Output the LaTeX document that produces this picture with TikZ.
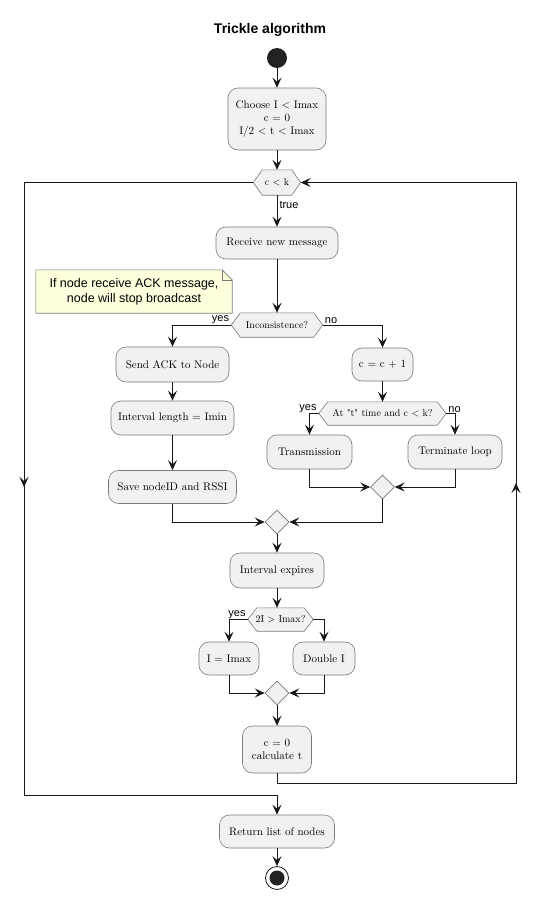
\documentclass[tikz,border=0pt]{standalone}
\usepackage{fontspec}
\defaultfontfeatures[\rmfamily]{}
\setmainfont{lmroman10-regular.otf}[BoldFont=lmroman10-bold.otf,ItalicFont=lmroman10-italic.otf]
\newfontfamily\lsans{Liberation Sans}
\usetikzlibrary{arrows.meta,shapes.geometric,backgrounds}
\definecolor{boxfill}{HTML}{F1F1F1}
\definecolor{boxedge}{HTML}{7A7A7A}
\definecolor{notefill}{HTML}{FEFFDD}
\definecolor{ink}{HTML}{181818}
\definecolor{dotc}{HTML}{222222}
\newcommand\hexbg[1]{%
  \begin{scope}[on background layer]
  \draw[boxedge,line width=0.6,fill=boxfill]
    ([xshift=9]#1.north west) -- ([xshift=-9]#1.north east) -- (#1.east)
    -- ([xshift=-9]#1.south east) -- ([xshift=9]#1.south west) -- (#1.west) -- cycle;
  \end{scope}}
\begin{document}
\begin{tikzpicture}[x=1pt,y=-1pt,
  act/.style 2 args={rectangle, rounded corners=10, draw=boxedge, line width=0.6,
    fill=boxfill, inner sep=0, align=center, minimum width=#1, minimum height=#2,
    font=\fontsize{11}{13}\selectfont},
  hex/.style 2 args={rectangle, draw=none, inner sep=0, align=center,
    minimum width=#1, minimum height=#2, font=\fontsize{10}{12}\selectfont},
  merge/.style={diamond, draw=boxedge, line width=0.6, fill=boxfill, inner sep=0,
    minimum width=24, minimum height=24},
  startdot/.style={circle, fill=dotc, inner sep=0, minimum size=20},
  enddot/.style={circle, draw=ink, line width=0.8, fill=white, inner sep=0, minimum size=23},
  flow/.style={draw=ink, line width=1, -{Stealth[length=10pt,width=9pt,inset=4pt]}},
  lbl/.style={font=\lsans\fontsize{11}{13}\selectfont, inner sep=1},
  notebox/.style={rectangle, draw=none, inner sep=0, align=center,
    minimum width=196, minimum height=43, font=\lsans\fontsize{12.5}{15}\selectfont}
]
\useasboundingbox (0,0) rectangle (541,900);
\begin{scope}[on background layer]
\fill[white] (0,0) rectangle (541,900);
\end{scope}

\node[font=\lsans\bfseries\fontsize{14}{16}\selectfont] (title) at (270,30) {Trickle algorithm};

\node[startdot] (start) at (277,58) {};
\node[act={98}{62}] (b1) at (277,119) {Choose I < Imax\\c = 0\\I/2 < t < Imax};
\node[hex={47}{25}] (ck) at (277,182.5) {c < k}; \hexbg{ck}
\node[act={122}{32}] (recv) at (277,243) {Receive new message};
\node[notebox] (note) at (134,291.5) {If node receive ACK message,\\node will stop broadcast};
\begin{scope}[on background layer]
\draw[boxedge,line width=0.6,fill=notefill]
  (note.north west) -- ([xshift=-10]note.north east) -- ([yshift=-10]note.north east)
  -- (note.south east) -- (note.south west) -- cycle;
\draw[boxedge,line width=0.6]
  ([xshift=-10]note.north east) -- ([xshift=-10,yshift=-10]note.north east) -- ([yshift=-10]note.north east);
\end{scope}
\node[hex={91}{24}] (inc) at (277,325) {Inconsistence?}; \hexbg{inc}
\node[act={113}{35}] (ack) at (172.5,364.5) {Send ACK to Node};
\node[act={123}{34}] (ilen) at (172.5,418) {Interval length = Imin};
\node[act={128}{33}] (save) at (172.5,487) {Save nodeID and RSSI};
\node[act={61}{33}] (cc1) at (382.5,364.5) {c = c + 1};
\node[hex={127}{23}] (at) at (382.5,413.5) {At "t" time and c < k?}; \hexbg{at}
\node[act={85}{34}] (trans) at (309.5,452) {Transmission};
\node[act={94}{34}] (term) at (455,452) {Terminate loop};
\node[merge] (m1) at (382.5,487) {};
\node[merge] (m2) at (277,522) {};
\node[act={94}{35}] (iexp) at (277,570.5) {Interval expires};
\node[hex={65}{23}] (two) at (280.5,619.5) {2I > Imax?}; \hexbg{two}
\node[act={60}{33}] (imax) at (229,658.5) {I = Imax};
\node[act={62}{33}] (dbl) at (324,658.5) {Double I};
\node[merge] (m3) at (277,693) {};
\node[act={69}{47}] (c0) at (277,749.5) {c = 0\\calculate t};
\node[act={115}{33}] (ret) at (277,831.5) {Return list of nodes};
\node[enddot] (end) at (277,878) {};
\fill[dotc] (end) circle (7.5);

\coordinate (rb) at (277,783);
\coordinate (rbr) at (516,783);
\coordinate (rtr) at (516,182.5);
\coordinate (ltl) at (24,182.5);
\coordinate (lbl) at (24,795);
\coordinate (lbm) at (277,795);

% main flow
\draw[flow] (start) -- (b1);
\draw[flow] (b1) -- (ck);
\draw[flow] (ck) -- (recv) node[lbl, pos=0.3, anchor=west, xshift=1] {true};
\draw[flow] (recv) -- (inc);
\draw[flow] (inc.west) -| (ack.north);
\node[lbl, anchor=south east] at ([xshift=-1]inc.west) {yes};
\draw[flow] (ack) -- (ilen);
\draw[flow] (ilen) -- (save);
\draw[flow] (save.south) |- (m2.west);
\draw[flow] (inc.east) -| (cc1.north);
\node[lbl, anchor=south west] at ([xshift=1]inc.east) {no};
\draw[flow] (cc1) -- (at);
\draw[flow] (at.west) -| (trans.north);
\node[lbl, anchor=south east] at ([xshift=-1]at.west) {yes};
\draw[flow] (at.east) -| (term.north);
\node[lbl, anchor=south west] at ([xshift=1]at.east) {no};
\draw[flow] (trans.south) |- (m1.west);
\draw[flow] (term.south) |- (m1.east);
\draw[flow] (m1.south) |- (m2.east);
\draw[flow] (m2) -- (iexp);
\draw[flow] (iexp.south) -- (iexp.south |- two.north);
\draw[flow] (two.west) -| (imax.north);
\node[lbl, anchor=south east] at ([xshift=-1]two.west) {yes};
\draw[flow] (two.east) -| (dbl.north);
\draw[flow] (imax.south) |- (m3.west);
\draw[flow] (dbl.south) |- (m3.east);
\draw[flow] (m3) -- (c0);
% loops
\draw[flow] (c0.south) -- (rb) -- (rbr) -- (rtr) -- (ck.east);
\draw[flow] (516,495) -- (516,483);
\draw[flow] (ck.west) -- (ltl) -- (lbl) -- (lbm) -- (ret.north);
\draw[flow] (24,475) -- (24,487);
\draw[flow] (ret) -- (end);
\end{tikzpicture}
\end{document}
